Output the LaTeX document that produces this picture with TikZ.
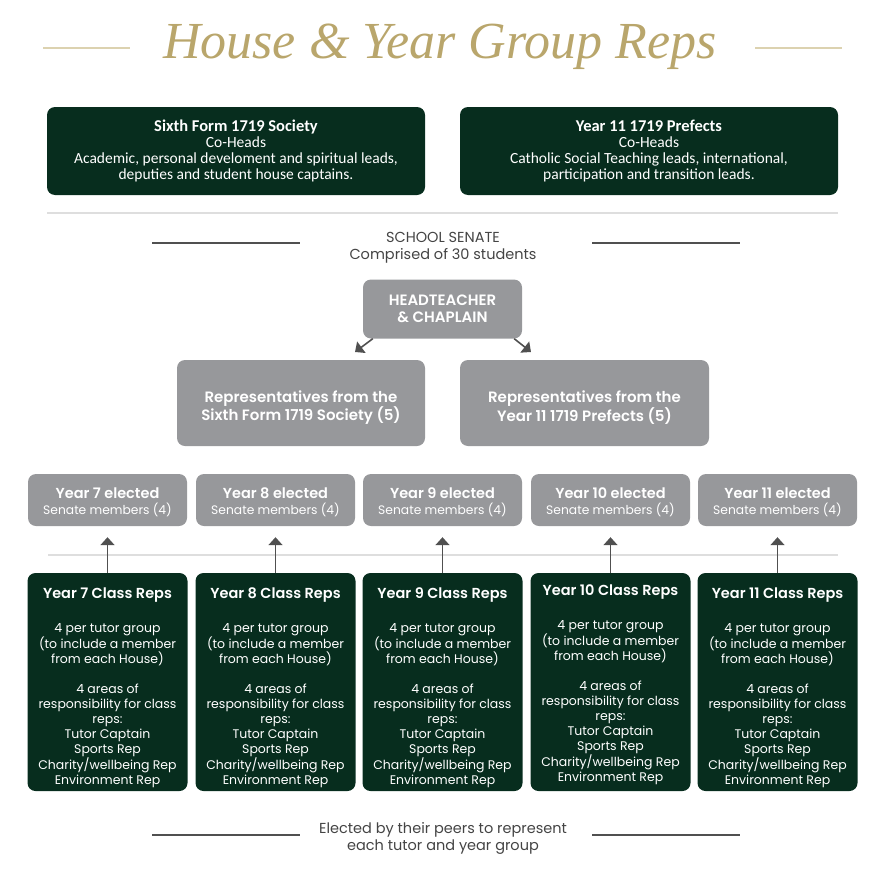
\documentclass[tikz,border=0pt]{standalone}
\usepackage{fontspec}
\setmainfont{Poppins}[BoldFont={Poppins SemiBold}]
\newfontfamily\titlefont{Liberation Serif}
\newfontfamily\topfont{Carlito}
\usetikzlibrary{arrows.meta,positioning}
\definecolor{gold}{HTML}{B9A66C}
\definecolor{paleGold}{HTML}{DCD2B0}
\definecolor{darkGreen}{HTML}{072D1E}
\definecolor{boxGrey}{HTML}{97989B}
\definecolor{lineGrey}{HTML}{505050}
\definecolor{sepGrey}{HTML}{DEDEDE}
\definecolor{textGrey}{HTML}{444444}
\tikzset{
  greenbox/.style={fill=darkGreen, text=white, rounded corners=8pt, align=center, inner sep=0pt},
  greybox/.style={fill=boxGrey, text=white, rounded corners=8pt, align=center, inner sep=0pt},
  rule/.style={lineGrey, line width=1.6pt},
  tip/.style={-{Triangle[length=8pt,width=14pt]}, lineGrey, line width=1.6pt}
}
\begin{document}
\begin{tikzpicture}[x=1pt,y=-1pt]
  \useasboundingbox (0,0) rectangle (886,886);
  %Title
  \node[anchor=base, gold, font=\titlefont\itshape\fontsize{52}{52}\selectfont] (title) at (440,58) {House \& Year Group Reps};
  \draw[paleGold, line width=1.5pt] (43,48) -- (130,48);
  \draw[paleGold, line width=1.5pt] (755,48) -- (842,48);

  %Top boxes
  \node[greenbox, minimum width=378pt, minimum height=88pt, font=\topfont\fontsize{15.5}{15.7}\selectfont] (sixth) at (236,151)
    {{\bfseries\fontsize{16.5}{15.7}\selectfont Sixth Form 1719 Society}\\Co-Heads\\Academic, personal develoment and spiritual leads,\\deputies and student house captains.};
  \node[greenbox, minimum width=378pt, minimum height=88pt, font=\topfont\fontsize{15.5}{15.7}\selectfont] (prefects) at (649,151)
    {{\bfseries\fontsize{16.5}{15.7}\selectfont Year 11 1719 Prefects}\\Co-Heads\\Catholic Social Teaching leads, international,\\participation and transition leads.};
  \draw[sepGrey, line width=1.5pt] (47,213) -- (838,213);

  %School senate
  \node[textGrey, align=center, font=\fontsize{14.5}{17}\selectfont] (senate) at (443,248) {SCHOOL SENATE\\Comprised of 30 students};
  \draw[rule] (152,243) -- (300,243);
  \draw[rule] (592,243) -- (740,243);

  \node[greybox, minimum width=159pt, minimum height=59pt, font=\bfseries\fontsize{15}{17}\selectfont] (head) at (442.5,309) {HEADTEACHER\\\& CHAPLAIN};
  \node[greybox, minimum width=248pt, minimum height=86pt] (repsix) at (301,403) {};
  \node[greybox, minimum width=249pt, minimum height=86pt] (repyear) at (584.5,403) {};
  \node[white, align=center, font=\bfseries\fontsize{15}{16.5}\selectfont] (repsixtext) at ([yshift=-4.5pt]repsix.center) {Representatives from the\\Sixth Form 1719 Society (5)};
  \node[white, align=center, font=\bfseries\fontsize{15}{16.5}\selectfont] (repyeartext) at ([yshift=-4.5pt]repyear.center) {Representatives from the\\Year 11 1719 Prefects (5)};
  \draw[tip] ([xshift=10pt]head.south west) -- (355,352) coordinate (l);
  \draw[tip] ([xshift=-8pt]head.south east) -- (531,352) coordinate (r);

  %Elected members and class reps
  \draw[sepGrey, line width=1.5pt] (48,555) -- (838,555);
  \foreach \i/\x/\s in {7/107.5/6,8/275.5/6,9/442.5/6,10/610.5/3,11/777.5/6}{
    \node[greybox, minimum width=159pt, minimum height=52pt] (e\i) at (\x,500) {};
    \node[white, align=center, font=\fontsize{12.3}{16}\selectfont] (et\i) at ([yshift=-2pt]e\i.center)
      {{\bfseries\fontsize{14.5}{16}\selectfont Year \i\ elected}\\Senate members (4)};
    \node[greenbox, minimum width=160pt, minimum height=218pt] (c\i) at (\x,682) {};
    \node[white, align=center, font=\fontsize{12.5}{15}\selectfont] (ct\i) at ([yshift=-\s pt]c\i.center)
      {{\bfseries\fontsize{14.5}{15}\selectfont Year \i\ Class Reps}\\[19pt]4 per tutor group\\(to include a member\\from each House)\\[15pt]4 areas of\\responsibility for class\\reps:\\Tutor Captain\\Sports Rep\\Charity/wellbeing Rep\\Environment Rep};
    \draw[tip] (c\i.north) -- ([yshift=-11pt]e\i.south);
  }

  %Footer
  \node[textGrey, align=center, font=\fontsize{14.5}{17}\selectfont] (elected) at (443,838) {Elected by their peers to represent\\each tutor and year group};
  \draw[rule] (152,835) -- (300,835);
  \draw[rule] (592,835) -- (740,835);
\end{tikzpicture}
\end{document}
